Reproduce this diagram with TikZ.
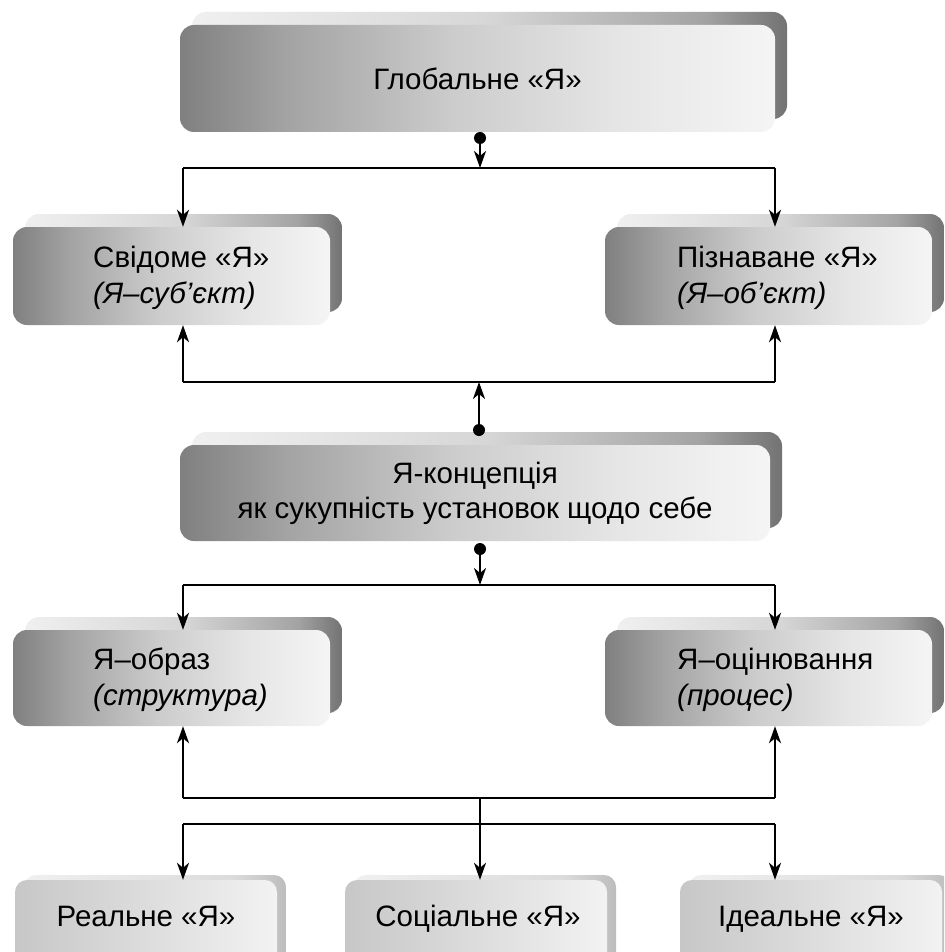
\documentclass[tikz,border=0pt]{standalone}
\usepackage{fontspec}
\setmainfont{Liberation Sans}
\usetikzlibrary{arrows.meta,shadows}
\pgfdeclarehorizontalshading{frontsh}{100bp}{color(0bp)=(black!50); color(25bp)=(black!50); color(34bp)=(black!36); color(48bp)=(black!20); color(62bp)=(black!10); color(75bp)=(black!4); color(100bp)=(black!4)}
\pgfdeclarehorizontalshading{backsh}{100bp}{color(0bp)=(black!6); color(25bp)=(black!6); color(50bp)=(black!16); color(68bp)=(black!36); color(75bp)=(black!55); color(100bp)=(black!55)}
\pgfdeclarehorizontalshading{lightsh}{100bp}{color(0bp)=(black!22); color(25bp)=(black!22); color(75bp)=(black!5); color(100bp)=(black!5)}
\pgfdeclarehorizontalshading{lightbacksh}{100bp}{color(0bp)=(black!6); color(25bp)=(black!6); color(65bp)=(black!14); color(75bp)=(black!26); color(100bp)=(black!26)}
\tikzset{
  box/.style={rounded corners=14pt, shade, shading=frontsh, inner sep=0pt,
    minimum height=98pt, font=\fontsize{29.5pt}{35pt}\selectfont,
    general shadow={shadow xshift=12pt, shadow yshift=13pt, shade, shading=backsh}},
  lowbox/.style={rounded corners=12pt, shade, shading=lightsh, inner sep=0pt,
    minimum width=262pt, minimum height=130pt,
    general shadow={shadow xshift=9pt, shadow yshift=5pt, shade, shading=lightbacksh}},
  txt/.style={anchor=west, align=left, inner sep=0pt, font=\fontsize{29.5pt}{36pt}\selectfont},
  ctxt/.style={anchor=base, inner sep=0pt, font=\fontsize{29.5pt}{36pt}\selectfont},
  conn/.style={line width=2.2pt, black},
  arr/.style={conn, -{Stealth[length=17pt, width=12pt, inset=5pt]}},
  dot/.style={fill=black},
}
\begin{document}
\begin{tikzpicture}[x=1pt, y=-1pt]
\useasboundingbox (0,0) rectangle (944,952);
\clip (0,0) rectangle (944,952);
\fill[white] (0,0) rectangle (944,952);

% boxes
\node[box, minimum width=595pt, minimum height=107pt] (glob) at (477.5,78.5) {Глобальне «Я»};

\node[box, minimum width=317pt] (svid) at (171.5,276) {};
\node[txt] (svidt) at (93,278) {Свідоме «Я»\\\textit{(Я–суб’єкт)}};
\node[box, minimum width=327pt] (pizn) at (768.5,276) {};
\node[txt] (piznt) at (677,278) {Пізнаване «Я»\\\textit{(Я–об’єкт)}};

\node[box, minimum width=590pt, minimum height=96pt, align=center] (konc) at (475,493) {Я-концепція\\як сукупність установок щодо себе};

\node[box, minimum width=317pt, minimum height=96pt] (obraz) at (171.5,678) {};
\node[txt] (obrazt) at (93,680) {Я–образ\\\textit{(структура)}};
\node[box, minimum width=327pt, minimum height=96pt] (ocin) at (768.5,678) {};
\node[txt] (ocint) at (677,680) {Я–оцінювання\\\textit{(процес)}};

\node[lowbox] (real) at (146,945) {};
\node[ctxt] (realt) at (146,926) {Реальне «Я»};
\node[lowbox] (soc) at (476,945) {};
\node[ctxt] (soct) at (478,926) {Соціальне «Я»};
\node[lowbox] (ideal) at (811,945) {};
\node[ctxt] (idealt) at (811,926) {Ідеальне «Я»};

% connectors
\coordinate (d1) at (480,138);
\coordinate (j1) at (480,168);
\coordinate (j1l) at (183,168);
\coordinate (j1r) at (775,168);
\draw[arr] (d1) -- (j1);
\fill[dot] (d1) circle (6pt);
\draw[conn] (j1l) -- (j1r);
\draw[arr] (j1l) -- (j1l |- svid.north);
\draw[arr] (j1r) -- (j1r |- pizn.north);

\coordinate (d2) at (479,430);
\coordinate (j2) at (479,382);
\coordinate (j2l) at (183,382);
\coordinate (j2r) at (775,382);
\draw[conn] (j2l) -- (j2r);
\draw[arr] (j2l) -- (j2l |- svid.south);
\draw[arr] (j2r) -- (j2r |- pizn.south);
\draw[arr] (d2) -- (j2);
\fill[dot] (d2) circle (6pt);

\coordinate (d3) at (480,549);
\coordinate (j3) at (480,585);
\coordinate (j3l) at (183,585);
\coordinate (j3r) at (775,585);
\draw[arr] (d3) -- (j3);
\fill[dot] (d3) circle (6pt);
\draw[conn] (j3l) -- (j3r);
\draw[arr] (j3l) -- (j3l |- obraz.north);
\draw[arr] (j3r) -- (j3r |- ocin.north);

\coordinate (j4) at (480,798);
\coordinate (j4l) at (183,798);
\coordinate (j4r) at (775,798);
\draw[conn] (j4l) -- (j4r);
\draw[arr] (j4l) -- (j4l |- obraz.south);
\draw[arr] (j4r) -- (j4r |- ocin.south);
\draw[arr] (j4) -- (j4 |- soc.north);

\coordinate (j5l) at (183,824);
\coordinate (j5r) at (775,824);
\draw[conn] (j5l) -- (j5r);
\draw[arr] (j5l) -- (j5l |- real.north);
\draw[arr] (j5r) -- (j5r |- ideal.north);
\end{tikzpicture}
\end{document}
